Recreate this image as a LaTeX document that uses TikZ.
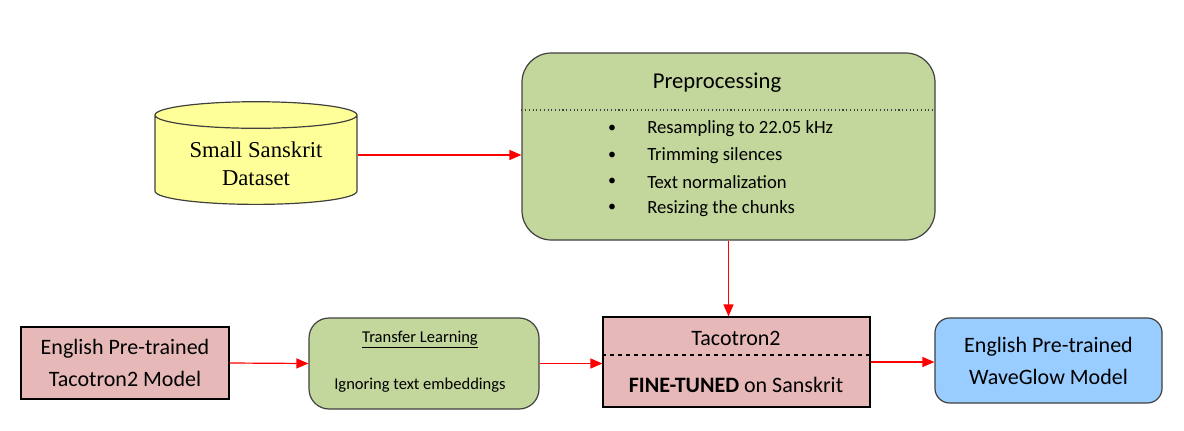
\documentclass[tikz,border=0pt]{standalone}
\usepackage{fontspec}
\setmainfont{Carlito}
\newfontfamily\dbfont{Liberation Serif}
\usetikzlibrary{shapes.geometric,arrows.meta}

\definecolor{prepgreen}{HTML}{C3D69B}
\definecolor{modelpink}{HTML}{E6B9B8}
\definecolor{glowblue}{HTML}{99CCFF}
\definecolor{dbyellow}{HTML}{FFFF99}
\definecolor{edgegray}{HTML}{404040}

\begin{document}
\begin{tikzpicture}[x=0.75pt, y=-0.75pt,
    boxtext/.style={font=\fontsize{16.5}{24}\selectfont, align=center},
    roundbox/.style={draw=edgegray, line width=0.9pt, inner sep=0pt},
    squarebox/.style={draw=black, line width=0.9pt, inner sep=0pt},
    flow/.style={red, line width=0.9pt, -{Triangle[length=9pt, width=7.5pt]}}]

  \useasboundingbox (0,0) rectangle (1184,431);

  % Dataset
  \node[cylinder, shape border rotate=90, aspect=0.2, draw=edgegray, line width=0.9pt,
        fill=dbyellow, minimum width=151.5pt, minimum height=77pt, inner sep=0pt,
        font=\dbfont\fontsize{17}{21}\selectfont, align=center]
        (data) at (256,160) {\phantom{Small Sanskrit}\\\phantom{Dataset}};
  \node[font=\dbfont\fontsize{17}{21}\selectfont, align=center]
        (dataname) at (256,164) {Small Sanskrit\\Dataset};

  % Preprocessing block
  \node[roundbox, rounded corners=22pt, fill=prepgreen,
        minimum width=309.75pt, minimum height=140.25pt] (prep) at (728.5,146.5) {};
  \node[font=\fontsize{17}{20}\selectfont] (prepname) at (717,83) {Preprocessing};
  \draw[dotted, edgegray, line width=0.8pt] (prep.west |- 0,110) -- (prep.east |- 0,110);
  \foreach \entry [count=\k] in {Resampling to 22.05 kHz, Trimming silences,
                                 Text normalization, Resizing the chunks} {
    \node[font=\fontsize{12}{16}\selectfont] (dot\k) at (612,{129+26.4*(\k-1)}) {\textbullet};
    \node[font=\fontsize{14}{16}\selectfont, anchor=west, inner sep=0pt]
         (step\k) at (647,{129+26.4*(\k-1)}) {\entry};
  }

  % English Tacotron2
  \node[squarebox, fill=modelpink, boxtext, minimum width=156pt, minimum height=54pt]
        (engtaco) at (125,363) {English Pre-trained\\Tacotron2 Model};

  % Transfer learning
  \node[roundbox, rounded corners=15pt, fill=prepgreen,
        minimum width=172.5pt, minimum height=68.25pt] (transfer) at (424,363.5) {};
  \node[font=\fontsize{12.4}{14}\selectfont] (transname) at (420,340) {\underline{Transfer Learning}};
  \node[font=\fontsize{12.4}{14}\selectfont] (transnote) at (420,385) {Ignoring text embeddings};

  % Tacotron2 fine-tuned
  \node[squarebox, fill=modelpink, minimum width=200.25pt, minimum height=67.5pt]
        (taco) at (736.5,362) {};
  \node[boxtext] (taconame) at (736,338) {Tacotron2};
  \node[boxtext] (taconote) at (736,385) {\textbf{FINE-TUNED} on Sanskrit};
  \draw[dashed, line width=0.8pt] (taco.west |- 0,355) -- (taco.east |- 0,355);

  % WaveGlow
  \node[roundbox, rounded corners=11pt, fill=glowblue, boxtext,
        minimum width=170.25pt, minimum height=63.75pt]
        (wave) at (1048.5,360.5) {English Pre-trained\\WaveGlow Model};

  % connectors
  \draw[flow] ([yshift=3.75pt]data.east) -- ([yshift=3.75pt]data.east -| prep.west);
  \draw[flow] (prep.south) -- (prep.south |- taco.north);
  \draw[flow] (engtaco.east) -- (transfer.west);
  \draw[flow] (transfer.east) -- (transfer.east -| taco.west);
  \draw[flow] (taco.east) -- (taco.east -| wave.west);
\end{tikzpicture}
\end{document}
